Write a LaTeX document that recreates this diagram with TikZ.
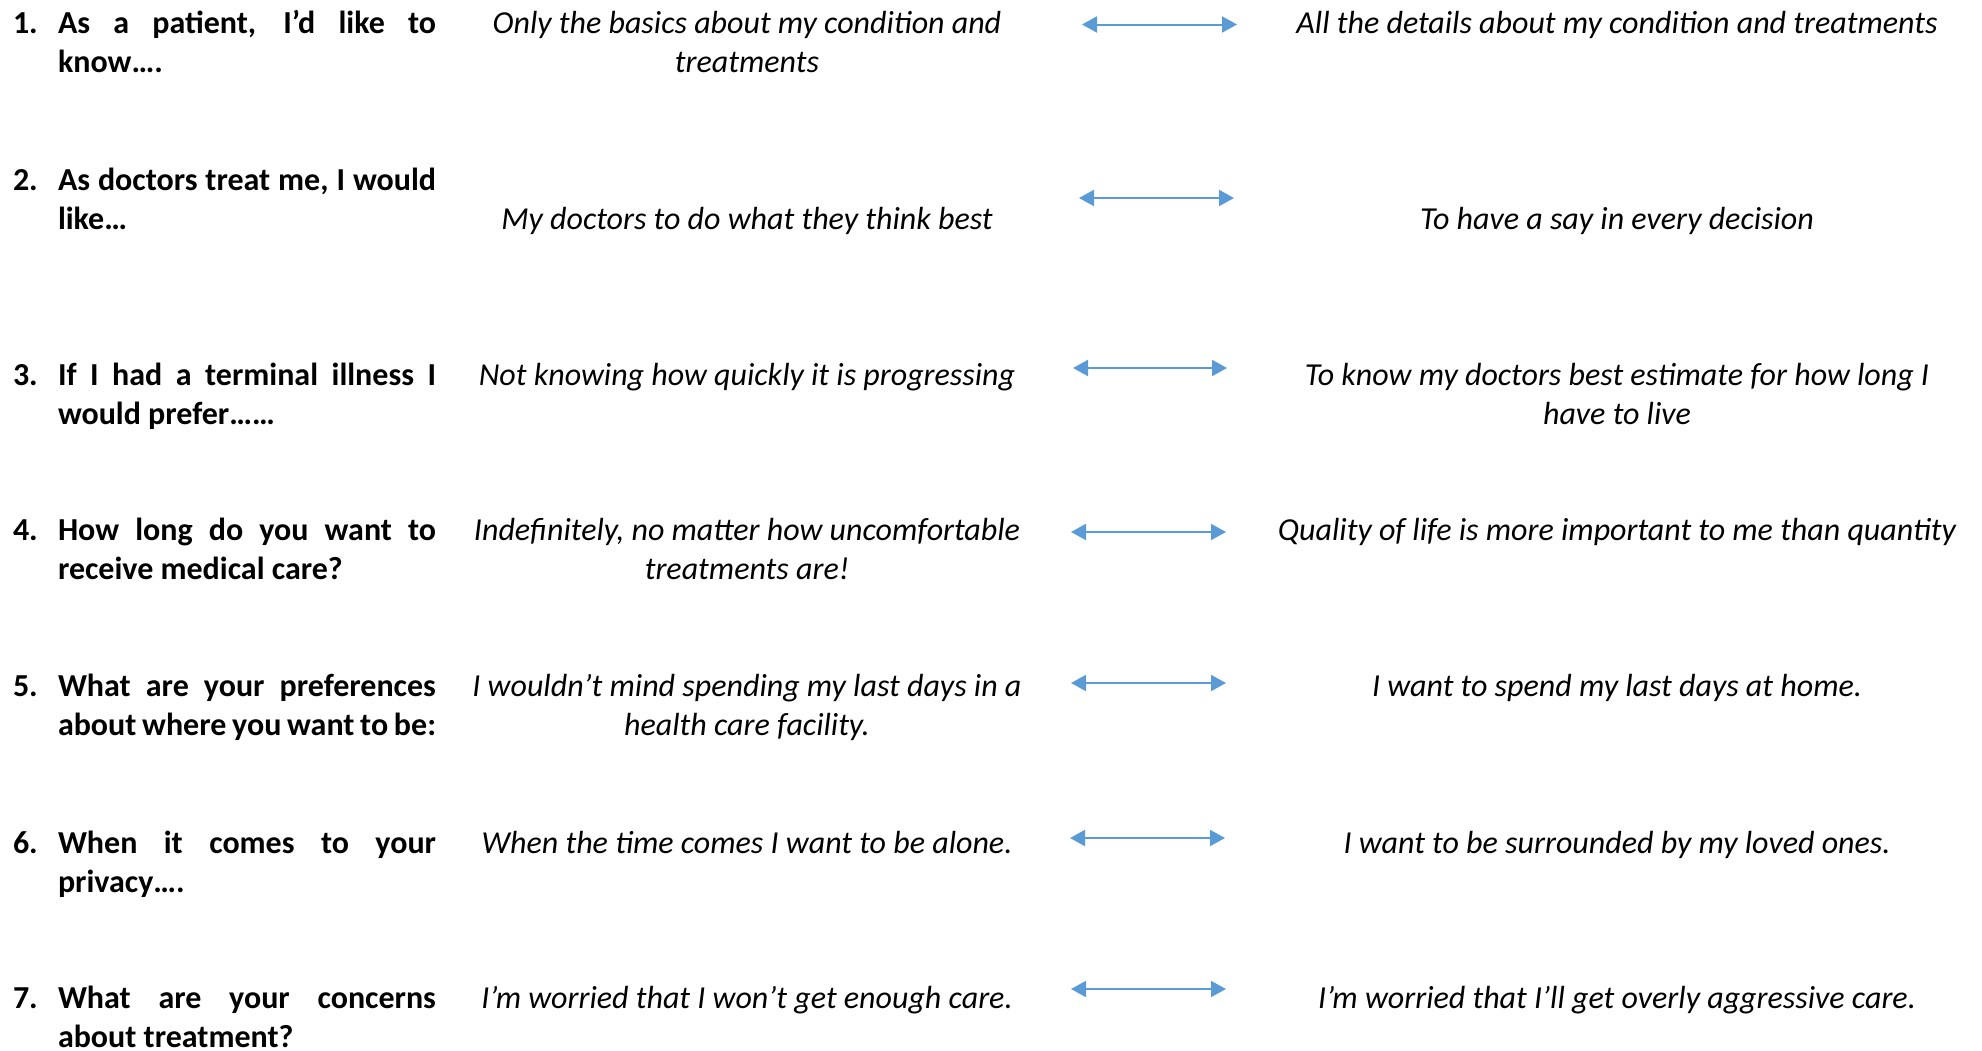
\documentclass[tikz,border=0pt]{standalone}
\usepackage{fontspec}
\setmainfont{Carlito}
\usetikzlibrary{arrows.meta}
\usepackage{xcolor}
\definecolor{scaleblue}{HTML}{5B9BD5}
\newcommand{\rowfont}{\fontsize{32}{39.4}\selectfont}
\tikzset{
	x=1pt, y=-1pt,
	>={Triangle[length=15pt,width=16pt]},
	every node/.style={inner sep=0pt, outer sep=0pt},
	num/.style={anchor=base west, font=\rowfont\bfseries},
	question/.style={anchor=base west, text width=378pt, align=justify, font=\rowfont\bfseries},
	choice/.style={anchor=base, align=center, font=\rowfont\itshape},
	scale line/.style={<->, draw=scaleblue, line width=2pt}}

\begin{document}
\begin{tikzpicture}
		\useasboundingbox (0,0) rectangle (1982,1050);
		
		% two-line choices sit on the baseline of their last line
		\node[num] (n1) at (13,33) {1.};
		\node[question] (q1) at (58,33) {As a patient, I’d like to\linebreak know….};
		\node[choice] (lo1) at (747,72.4) {Only the basics about my condition and\\treatments};
		\node[choice] (hi1) at (1617,33) {All the details about my condition and treatments};
		\coordinate (s1w) at (1082,24.5);
		\coordinate (s1e) at (1237,24.5);
		
		\node[num] (n2) at (13,190) {2.};
		\node[question] (q2) at (58,190) {As doctors treat me, I would\linebreak like…};
		\node[choice] (lo2) at (747,229.4) {My doctors to do what they think best};
		\node[choice] (hi2) at (1617,229.4) {To have a say in every decision};
		\coordinate (s2w) at (1079,198);
		\coordinate (s2e) at (1234,198);
		
		\node[num] (n3) at (13,385) {3.};
		\node[question] (q3) at (58,385) {If I had a terminal illness I\linebreak would prefer……};
		\node[choice] (lo3) at (747,385) {Not knowing how quickly it is progressing};
		\node[choice] (hi3) at (1617,424.4) {To know my doctors best estimate for how long I\\have to live};
		\coordinate (s3w) at (1073,368);
		\coordinate (s3e) at (1227,368);
		
		\node[num] (n4) at (13,540) {4.};
		\node[question] (q4) at (58,540) {How long do you want to\linebreak receive medical care?};
		\node[choice] (lo4) at (747,579.4) {Indefinitely, no matter how uncomfortable\\treatments are!};
		\node[choice] (hi4) at (1617,540) {Quality of life is more important to me than quantity};
		\coordinate (s4w) at (1071,532);
		\coordinate (s4e) at (1226,532);
		
		\node[num] (n5) at (13,696) {5.};
		\node[question] (q5) at (58,696) {What are your preferences\linebreak about where you want to be:};
		\node[choice] (lo5) at (747,735.4) {I wouldn’t mind spending my last days in a\\health care facility.};
		\node[choice] (hi5) at (1617,696) {I want to spend my last days at home.};
		\coordinate (s5w) at (1071,683);
		\coordinate (s5e) at (1226,683);
		
		\node[num] (n6) at (13,853) {6.};
		\node[question] (q6) at (58,853) {When it comes to your\linebreak privacy….};
		\node[choice] (lo6) at (747,853) {When the time comes I want to be alone.};
		\node[choice] (hi6) at (1617,853) {I want to be surrounded by my loved ones.};
		\coordinate (s6w) at (1070,838);
		\coordinate (s6e) at (1225,838);
		
		\node[num] (n7) at (13,1008) {7.};
		\node[question] (q7) at (58,1008) {What are your concerns\linebreak about treatment?};
		\node[choice] (lo7) at (747,1008) {I’m worried that I won’t get enough care.};
		\node[choice] (hi7) at (1617,1008) {I’m worried that I’ll get overly aggressive care.};
		\coordinate (s7w) at (1071,989);
		\coordinate (s7e) at (1226,989);
		
		\draw[scale line] (s1w) -- (s1e);
		\draw[scale line] (s2w) -- (s2e);
		\draw[scale line] (s3w) -- (s3e);
		\draw[scale line] (s4w) -- (s4e);
		\draw[scale line] (s5w) -- (s5e);
		\draw[scale line] (s6w) -- (s6e);
		\draw[scale line] (s7w) -- (s7e);
		
	\end{tikzpicture}
\end{document}
